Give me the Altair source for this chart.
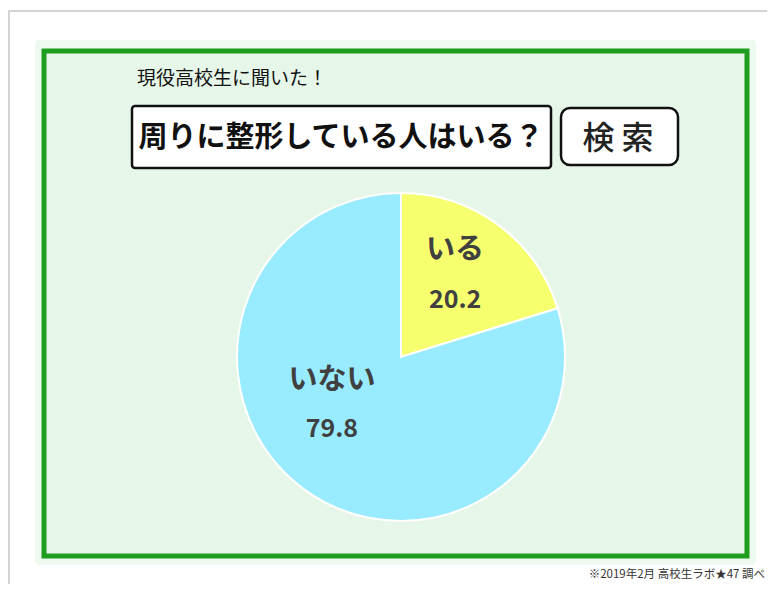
import altair as alt
import pandas as pd

# ---- data ----
categories = ["いる", "いない"]
values = [20.2, 79.8]
orders = [1, 2]
colors = ["#f6ff6e", "#99ecff"]

subtitle = "現役高校生に聞いた！"
title_text = "周りに整形している人はいる？"
search_text = "検  索"
footer = "※2019年2月 高校生ラボ★47 調べ"

df = pd.DataFrame({"category": categories, "value": values, "order": orders})
one = pd.DataFrame({"k": [0]})

FONT = "Noto Sans CJK JP"
W, H = 703, 505
CX, CY, R = 357, 306, 164

theta_scale = alt.Scale(domain=[0, 100], range=[0, 6.283185307179586])

# ---- decorations ----
card = alt.Chart(one).mark_rect(fill="white", stroke="#d4d4d4", strokeWidth=2).encode(
    x=alt.value(-35), x2=alt.value(760), y=alt.value(-40), y2=alt.value(620)
)
halo = alt.Chart(one).mark_rect(fill="#eefaf0", cornerRadius=4).encode(
    x=alt.value(-9), x2=alt.value(W + 9), y=alt.value(-11), y2=alt.value(H + 9)
)
frame = alt.Chart(one).mark_rect(fill="#e6f7e9", stroke="#1e9e1e", strokeWidth=5).encode(
    x=alt.value(0), x2=alt.value(W), y=alt.value(0), y2=alt.value(H)
)
sub = alt.Chart(one).mark_text(
    text=subtitle, font=FONT, fontSize=19, align="left", baseline="middle", color="#111111"
).encode(x=alt.value(93), y=alt.value(28))

tbox = alt.Chart(one).mark_rect(fill="white", stroke="#111111", strokeWidth=2.5, cornerRadius=3).encode(
    x=alt.value(88), x2=alt.value(507), y=alt.value(55), y2=alt.value(117)
)
ttext = alt.Chart(one).mark_text(
    text=title_text, font=FONT, fontSize=29, fontWeight="bold", align="center",
    baseline="middle", color="#111111"
).encode(x=alt.value(297), y=alt.value(87))

sbox = alt.Chart(one).mark_rect(fill="white", stroke="#111111", strokeWidth=2.5, cornerRadius=9).encode(
    x=alt.value(517), x2=alt.value(634), y=alt.value(57), y2=alt.value(114)
)
stext = alt.Chart(one).mark_text(
    text=search_text, font=FONT, fontSize=32, fontWeight=500, align="center", baseline="middle",
    color="#222222"
).encode(x=alt.value(574), y=alt.value(88))

foot = alt.Chart(one).mark_text(
    text=footer, font=FONT, fontSize=11.5, align="right", baseline="middle", color="#333333"
).encode(x=alt.value(721), y=alt.value(524))

# ---- pie ----
pie = alt.Chart(df).mark_arc(radius=R, stroke="white", strokeWidth=2).encode(
    theta=alt.Theta("value:Q", stack=True, scale=theta_scale),
    color=alt.Color("category:N", scale=alt.Scale(domain=categories, range=colors), legend=None),
    order=alt.Order("order:Q"),
    x=alt.value(CX),
    y=alt.value(CY),
)

base = alt.Chart(df).transform_window(
    cum="sum(value)", sort=[alt.SortField("order")]
).transform_calculate(mid="datum.cum - datum.value / 2")


def label(cat, field, size, dx, dy):
    return base.transform_filter(alt.datum.category == cat).mark_text(
        radius=98, font=FONT, fontSize=size, fontWeight="bold", color="#404040",
        align="center", baseline="middle", dx=dx, dy=dy
    ).encode(
        theta=alt.Theta("mid:Q", stack=False, scale=theta_scale),
        text=alt.Text(field),
        x=alt.value(CX),
        y=alt.value(CY),
    )


labels = [
    label("いる", "category:N", 29, -4, -28),
    label("いる", "value:Q", 25, -4, 22),
    label("いない", "category:N", 29, -11, -56),
    label("いない", "value:Q", 25, -11, -7),
]

chart = alt.layer(card, halo, frame, sub, tbox, ttext, sbox, stext, foot, pie, *labels).properties(
    width=W, height=H,
    padding={"left": 36, "top": 43, "right": 20, "bottom": 28},
    autosize=alt.AutoSizeParams(type="none"),
    background="white",
).configure_view(strokeWidth=0)

chart.save("out.html", embed_options={"renderer": "svg", "actions": False})
